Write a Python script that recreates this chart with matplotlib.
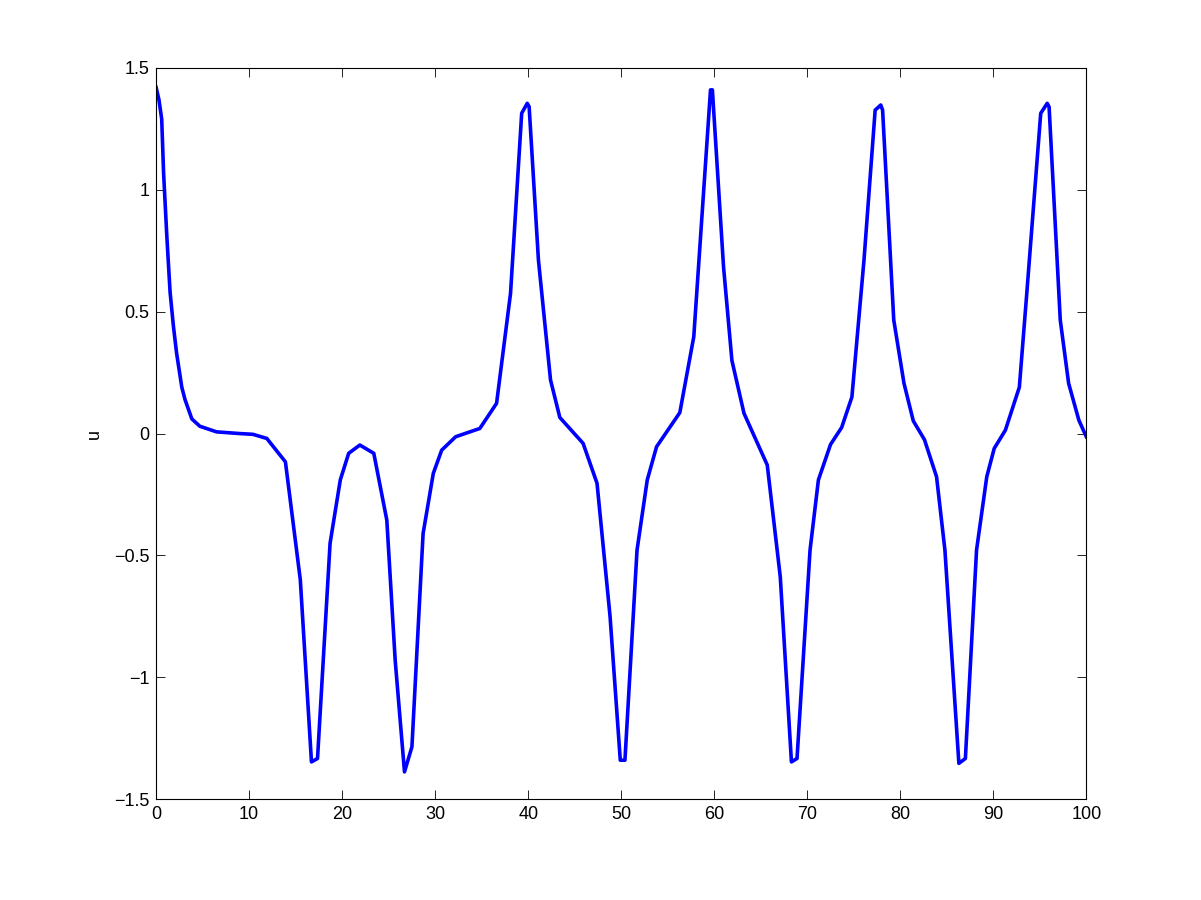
import matplotlib
matplotlib.use("Agg")
import matplotlib.pyplot as plt

# Solution trace (t, u)
t = [0.0, 0.3, 0.6, 0.8, 1.15, 1.5, 1.86, 2.2, 2.76, 3.1, 3.84, 4.7, 6.5, 9.0,
     10.4, 11.9, 13.9, 15.5, 16.7, 17.35, 18.7, 19.8, 20.7, 21.9, 23.4, 24.8,
     25.7, 26.7, 27.5, 28.7, 29.8, 30.7, 32.2, 34.8, 36.6, 38.1, 39.3, 39.9,
     40.1, 41.1, 42.4, 43.4, 45.9, 47.4, 48.8, 49.9, 50.4, 51.7, 52.8, 53.8,
     56.3, 57.8, 59.6, 59.8, 61.0, 61.9, 63.2, 65.7, 67.1, 68.3, 68.9, 70.3,
     71.2, 72.5, 73.7, 74.8, 76.1, 77.3, 77.9, 78.1, 79.3, 80.4, 81.4, 82.6,
     83.9, 84.8, 86.3, 87.0, 88.2, 89.3, 90.1, 91.3, 92.8, 93.6, 95.1, 95.8,
     96.0, 97.2, 98.1, 99.2, 100.0]
u = [1.42, 1.37, 1.29, 1.07, 0.81, 0.58, 0.44, 0.33, 0.19, 0.14, 0.06, 0.03,
     0.007, 0.0, -0.003, -0.02, -0.116, -0.60, -1.347, -1.333, -0.45, -0.19,
     -0.081, -0.047, -0.081, -0.355, -0.93, -1.388, -1.285, -0.41, -0.163,
     -0.068, -0.013, 0.021, 0.124, 0.575, 1.314, 1.355, 1.341, 0.712, 0.22,
     0.066, -0.04, -0.204, -0.75, -1.34, -1.34, -0.478, -0.19, -0.054, 0.086,
     0.397, 1.41, 1.41, 0.684, 0.30, 0.083, -0.129, -0.588, -1.347, -1.333,
     -0.478, -0.19, -0.045, 0.025, 0.15, 0.712, 1.327, 1.348, 1.327, 0.466,
     0.206, 0.052, -0.025, -0.177, -0.478, -1.353, -1.333, -0.478, -0.177,
     -0.061, 0.014, 0.19, 0.575, 1.314, 1.355, 1.34, 0.466, 0.206, 0.055,
     -0.013]

xticks = [0, 10, 20, 30, 40, 50, 60, 70, 80, 90, 100]
yticks = [-1.5, -1, -0.5, 0, 0.5, 1, 1.5]
yticklabels = ["\u22121.5", "\u22121", "\u22120.5", "0", "0.5", "1", "1.5"]

plt.rcParams['font.family'] = ['Liberation Sans', 'DejaVu Sans']

fig = plt.figure(figsize=(12.01, 9), dpi=100)
ax = fig.add_axes([0.13, 0.112, 0.7745, 0.8125])

ax.plot(t, u, color='#0000ff', linewidth=2.6)

ax.set_xlim(0, 100)
ax.set_ylim(-1.5, 1.5)
ax.set_xticks(xticks)
ax.set_xticklabels([str(v) for v in xticks])
ax.set_yticks(yticks)
ax.set_yticklabels(yticklabels)
ax.tick_params(direction='in', length=6.7, width=0.6, top=True, right=True,
               labelsize=13, pad=5)
for s in ax.spines.values():
    s.set_linewidth(0.8)
ax.set_ylabel('u', fontsize=13, labelpad=8)

fig.savefig('out.png', dpi=100)
